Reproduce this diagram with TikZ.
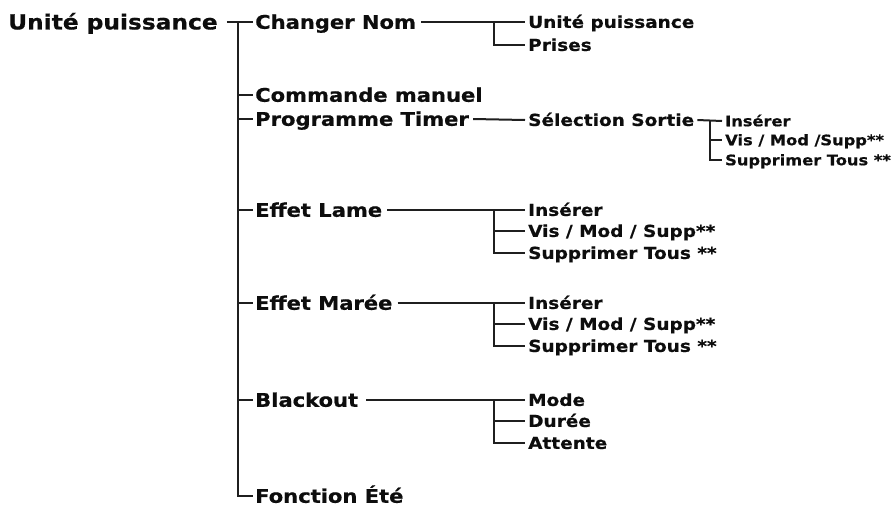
\documentclass[tikz,border=0pt]{standalone}
\usepackage{fontspec}
\setmainfont{DejaVu Sans}
\newfontfamily\vfont{DejaVu Sans Bold}[FakeStretch=1.12,FakeBold=0.6]
\begin{document}
\begin{tikzpicture}[x=1pt,y=-1pt,
  lbl/.style={anchor=west, inner sep=0pt, text=black!95},
  rootlbl/.style={lbl, font=\fontsize{20.8}{24}\vfont, text height=17.6pt, text depth=2.7pt},
  mainlbl/.style={lbl, font=\fontsize{18.8}{22}\vfont, text height=16pt, text depth=2.44pt},
  sublbl/.style={lbl, font=\fontsize{16.5}{19}\vfont, text height=14pt, text depth=2.15pt},
  smalllbl/.style={lbl, font=\fontsize{14.5}{17}\vfont, text height=12.4pt, text depth=1.9pt},
  conn/.style={draw=black!88, line width=2pt}]
\useasboundingbox (0,0) rectangle (896,506);
% root and main items
\node[rootlbl] (r) at (8,22) {Unité puissance};
\node[mainlbl] (cn) at (255,22) {Changer Nom};
\node[mainlbl] (cm) at (255,95) {Commande manuel};
\node[mainlbl] (pt) at (255,119) {Programme Timer};
\node[mainlbl] (el) at (255,210) {Effet Lame};
\node[mainlbl] (em) at (255,303) {Effet Marée};
\node[mainlbl] (bo) at (255,400) {Blackout};
\node[mainlbl] (fe) at (255,496) {Fonction Été};
% Changer Nom subs
\node[sublbl] (up) at (528,22) {Unité puissance};
\node[sublbl] (pr) at (528,45) {Prises};
% Programme Timer
\node[sublbl] (ss) at (528,120) {Sélection Sortie};
\node[smalllbl] (ss1) at (725,121) {Insérer};
\node[smalllbl] (ss2) at (725,140) {Vis / Mod /Supp**};
\node[smalllbl] (ss3) at (725,160) {Supprimer Tous **};
% Effet Lame
\node[sublbl] (el1) at (528,210) {Insérer};
\node[sublbl] (el2) at (528,231) {Vis / Mod / Supp**};
\node[sublbl] (el3) at (528,253) {Supprimer Tous **};
% Effet Marée
\node[sublbl] (em1) at (528,303) {Insérer};
\node[sublbl] (em2) at (528,324) {Vis / Mod / Supp**};
\node[sublbl] (em3) at (528,346) {Supprimer Tous **};
% Blackout
\node[sublbl] (bo1) at (528,400) {Mode};
\node[sublbl] (bo2) at (528,421) {Durée};
\node[sublbl] (bo3) at (528,443) {Attente};
% junctions
\coordinate (j0) at (238,22);
\coordinate (j1) at (494,22);
\coordinate (j2) at (710,120);
\coordinate (j3) at (494,210);
\coordinate (j4) at (494,303);
\coordinate (j5) at (494,400);
% main tree
\draw[conn] ([xshift=9pt]r.east) -- ([xshift=-2pt]cn.west);
\draw[conn] (j0) |- ([xshift=-2pt]fe.west);
\foreach \n in {cm,pt,el,em,bo}
  \draw[conn] (j0 |- \n.west) -- ([xshift=-2pt]\n.west);
% Changer Nom
\draw[conn] ([xshift=5pt]cn.east) -- ([xshift=-3pt]up.west);
\draw[conn] (j1) |- ([xshift=-3pt]pr.west);
% Programme Timer
\draw[conn] ([xshift=4pt]pt.east) -- ([xshift=-3pt]ss.west);
\draw[conn] ([xshift=3pt]ss.east) -- ([xshift=-3pt]ss1.west);
\draw[conn] (j2) |- ([xshift=-3pt]ss3.west);
\draw[conn] (j2 |- ss2.west) -- ([xshift=-3pt]ss2.west);
% Effet Lame
\draw[conn] ([xshift=5pt]el.east) -- ([xshift=-3pt]el1.west);
\draw[conn] (j3) |- ([xshift=-3pt]el3.west);
\draw[conn] (j3 |- el2.west) -- ([xshift=-3pt]el2.west);
% Effet Marée
\draw[conn] ([xshift=5pt]em.east) -- ([xshift=-3pt]em1.west);
\draw[conn] (j4) |- ([xshift=-3pt]em3.west);
\draw[conn] (j4 |- em2.west) -- ([xshift=-3pt]em2.west);
% Blackout
\draw[conn] ([xshift=8pt]bo.east) -- ([xshift=-3pt]bo1.west);
\draw[conn] (j5) |- ([xshift=-3pt]bo3.west);
\draw[conn] (j5 |- bo2.west) -- ([xshift=-3pt]bo2.west);
\end{tikzpicture}
\end{document}
